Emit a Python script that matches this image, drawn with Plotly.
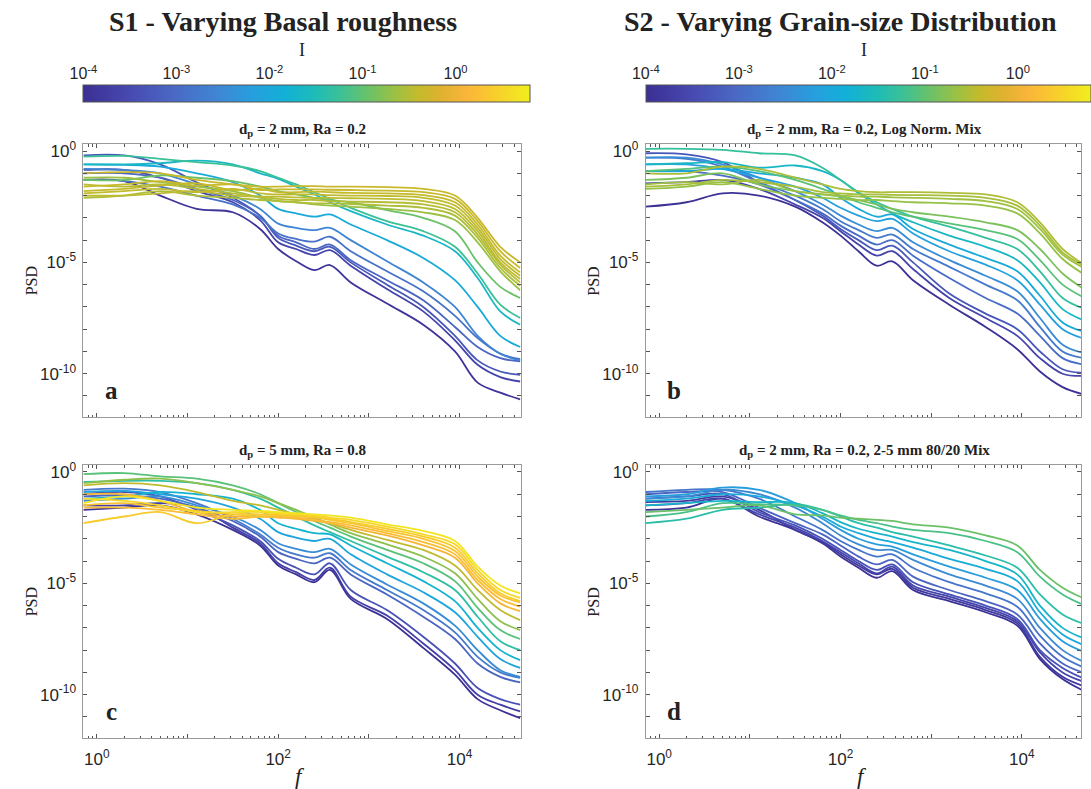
import plotly.graph_objects as go
from plotly.colors import sample_colorscale

# ---------------- data ----------------
# shared frequency grid (Hz)
FREQ = [0.71, 2.0, 5.0, 12.6, 31.6, 63.1, 100, 158, 251, 372, 631, 1585, 3981, 8913, 15850, 28180, 46770]

# log10(I) of every curve, and log10(PSD) of every curve on FREQ
A_LOGI = [-3.9, -3.6, -3.3, -3.1, -2.9, -2.6, -2.0, -1.7, -1.3, -1.0, -0.72, -0.6, -0.56, -0.53, -0.5, -0.48, -0.45, -0.42]
A_PSD = [
    [-1.3, -1.35, -2.0, -2.6, -2.75, -3.5, -4.4, -4.95, -5.35, -5.12, -5.9, -6.85, -7.8, -9.0, -10.4, -10.85, -11.15],
    [-0.85, -0.85, -1.2, -1.8, -2.3, -3.1, -4.1, -4.4, -4.67, -4.45, -5.15, -6.2, -7.2, -8.5, -9.6, -10.15, -10.35],
    [-0.2, -0.2, -0.6, -1.4, -2.1, -2.9, -3.9, -4.25, -4.5, -4.3, -5.0, -6.0, -7.0, -8.3, -9.4, -9.9, -10.05],
    [-1.0, -1.0, -1.2, -1.7, -2.2, -2.9, -3.8, -4.1, -4.4, -4.2, -4.9, -5.8, -6.7, -7.9, -8.8, -9.3, -9.45],
    [-1.3, -1.35, -1.6, -2.0, -2.4, -3.0, -3.7, -3.95, -4.07, -3.85, -4.5, -5.4, -6.3, -7.4, -8.4, -9.1, -9.35],
    [-0.8, -0.85, -1.0, -1.5, -2.0, -2.6, -3.26, -3.45, -3.55, -3.45, -4.0, -4.95, -5.9, -7.0, -8.3, -9.1, -9.4],
    [-0.6, -0.62, -0.7, -1.0, -1.4, -2.0, -2.6, -2.8, -2.95, -2.85, -3.3, -4.0, -4.8, -5.8, -7.0, -8.3, -8.8],
    [-0.6, -0.6, -0.55, -0.43, -0.6, -1.0, -1.25, -1.6, -1.95, -2.3, -2.7, -3.3, -3.8, -4.5, -5.7, -7.2, -7.8],
    [-0.25, -0.22, -0.35, -0.5, -0.65, -0.9, -1.2, -1.5, -1.85, -2.15, -2.55, -3.15, -3.6, -4.3, -5.5, -6.9, -7.5],
    [-1.3, -1.3, -1.1, -1.2, -1.35, -1.6, -1.8, -1.95, -2.1, -2.2, -2.3, -2.65, -3.0, -3.6, -5.0, -6.1, -6.6],
    [-1.2, -1.2, -1.4, -1.6, -1.8, -2.1, -2.25, -2.3, -2.4, -2.45, -2.5, -2.6, -2.75, -3.1, -4.1, -5.4, -6.25],
    [-2.1, -2.0, -1.8, -2.0, -2.1, -2.2, -2.25, -2.3, -2.35, -2.35, -2.38, -2.45, -2.55, -2.9, -3.9, -5.25, -6.05],
    [-1.5, -1.6, -1.5, -1.7, -1.9, -2.05, -2.15, -2.2, -2.2, -2.25, -2.27, -2.3, -2.4, -2.75, -3.75, -5.1, -5.9],
    [-2.0, -2.0, -1.9, -1.8, -2.0, -2.05, -2.05, -2.08, -2.1, -2.1, -2.12, -2.15, -2.25, -2.6, -3.6, -5.0, -5.75],
    [-1.9, -1.8, -1.7, -1.85, -1.7, -1.9, -1.95, -1.95, -1.95, -1.98, -2.0, -2.02, -2.1, -2.45, -3.45, -4.85, -5.6],
    [-1.8, -1.7, -1.55, -1.45, -1.75, -1.7, -1.85, -1.85, -1.82, -1.85, -1.88, -1.9, -1.98, -2.3, -3.3, -4.7, -5.45],
    [-1.6, -1.5, -1.35, -1.55, -1.5, -1.75, -1.72, -1.72, -1.72, -1.74, -1.75, -1.78, -1.85, -2.15, -3.15, -4.5, -5.25],
    [-1.0, -0.95, -1.0, -1.3, -1.5, -1.6, -1.6, -1.58, -1.58, -1.6, -1.6, -1.62, -1.7, -2.0, -3.0, -4.3, -5.0],
]

B_LOGI = [-3.95, -3.6, -3.3, -3.0, -2.8, -2.5, -2.2, -2.0, -1.7, -1.35, -1.1, -0.9, -0.75, -0.7, -0.65, -0.6]
B_PSD = [
    [-2.5, -2.3, -1.9, -2.0, -2.5, -3.2, -3.8, -4.5, -5.15, -4.95, -5.8, -6.9, -7.9, -8.9, -9.9, -10.6, -10.92],
    [-1.45, -1.4, -1.3, -1.7, -2.4, -3.0, -3.6, -4.2, -4.7, -4.5, -5.3, -6.6, -7.5, -8.3, -9.3, -10.0, -10.1],
    [-0.1, -0.15, -0.5, -1.4, -2.2, -2.9, -3.5, -4.0, -4.45, -4.25, -5.0, -6.4, -7.3, -8.0, -9.0, -9.8, -9.96],
    [-0.9, -0.9, -1.1, -1.5, -2.2, -2.8, -3.35, -3.8, -4.2, -4.0, -4.7, -5.7, -6.6, -7.3, -8.3, -9.3, -9.58],
    [-0.3, -0.35, -0.7, -1.4, -2.0, -2.6, -3.15, -3.55, -3.9, -3.75, -4.4, -5.2, -6.0, -6.7, -7.9, -9.0, -9.29],
    [-0.3, -0.3, -0.6, -1.2, -1.8, -2.4, -2.9, -3.3, -3.6, -3.45, -4.1, -4.9, -5.6, -6.3, -7.5, -8.7, -9.06],
    [-0.6, -0.6, -0.8, -1.2, -1.6, -2.1, -2.55, -2.9, -3.15, -3.05, -3.7, -4.5, -5.1, -5.8, -6.9, -8.0, -8.4],
    [-0.9, -0.9, -0.8, -1.0, -1.2, -1.5, -2.1, -2.6, -2.95, -2.85, -3.5, -4.2, -4.8, -5.4, -6.5, -7.7, -8.1],
    [-0.6, -0.55, -0.5, -0.75, -0.65, -0.9, -1.3, -1.9, -2.4, -2.8, -3.2, -3.8, -4.3, -4.9, -5.9, -7.1, -7.58],
    [0.1, 0.1, 0.05, -0.1, -0.2, -0.75, -1.3, -1.85, -2.3, -2.6, -2.95, -3.4, -3.9, -4.4, -5.4, -6.6, -7.06],
    [-0.9, -0.8, -0.7, -0.9, -1.3, -1.7, -2.0, -2.3, -2.55, -2.75, -2.95, -3.25, -3.55, -3.95, -4.9, -6.0, -6.54],
    [-1.3, -1.2, -1.0, -1.5, -1.8, -1.95, -2.05, -2.2, -2.4, -2.6, -2.75, -2.95, -3.2, -3.55, -4.4, -5.5, -6.16],
    [-1.7, -1.6, -1.4, -1.7, -2.0, -2.1, -2.15, -2.2, -2.2, -2.25, -2.3, -2.35, -2.45, -2.8, -3.7, -4.85, -5.49],
    [-1.5, -1.4, -1.5, -1.3, -1.8, -1.95, -2.0, -2.05, -2.05, -2.08, -2.1, -2.15, -2.25, -2.6, -3.5, -4.65, -5.22],
    [-1.6, -1.5, -1.3, -1.4, -1.6, -1.85, -1.9, -1.95, -1.95, -1.97, -1.98, -2.0, -2.1, -2.45, -3.35, -4.55, -5.12],
    [-1.0, -1.0, -0.7, -0.8, -1.2, -1.5, -1.7, -1.8, -1.85, -1.85, -1.85, -1.88, -1.95, -2.3, -3.2, -4.4, -5.05],
]

C_LOGI = [-3.95, -3.7, -3.4, -3.1, -2.8, -2.5, -2.1, -1.8, -1.4, -1.1, -0.8, -0.5, 0.0, 0.15, 0.22, 0.3, 0.45, 0.6]
C_PSD = [
    [-1.7, -1.6, -1.5, -1.9, -2.6, -3.3, -4.2, -4.6, -4.95, -4.4, -5.7, -6.6, -7.9, -9.1, -10.2, -10.7, -11.05],
    [-1.5, -1.5, -1.4, -1.6, -2.5, -3.2, -4.1, -4.5, -4.85, -4.3, -5.6, -6.45, -7.7, -8.9, -10.0, -10.45, -10.75],
    [-1.0, -0.9, -1.1, -1.7, -2.4, -3.1, -3.9, -4.3, -4.6, -4.1, -5.3, -6.2, -7.4, -8.6, -9.7, -10.2, -10.45],
    [-1.1, -1.05, -1.2, -1.6, -2.2, -2.9, -3.6, -3.9, -4.1, -3.85, -4.6, -5.5, -6.5, -7.5, -8.6, -9.2, -9.45],
    [-0.8, -0.75, -0.9, -1.4, -2.1, -2.8, -3.4, -3.7, -3.85, -3.65, -4.4, -5.3, -6.2, -7.2, -8.3, -9.0, -9.25],
    [-1.3, -1.2, -1.1, -1.5, -2.0, -2.6, -3.2, -3.45, -3.6, -3.45, -4.15, -5.05, -5.9, -6.9, -8.0, -8.9, -9.2],
    [-0.9, -0.85, -1.0, -1.2, -1.6, -2.1, -2.7, -2.95, -3.1, -3.0, -3.7, -4.6, -5.4, -6.3, -7.4, -8.4, -8.8],
    [-1.2, -1.1, -0.9, -1.0, -1.2, -1.7, -2.3, -2.55, -2.75, -2.8, -3.3, -4.1, -4.9, -5.8, -7.0, -8.0, -8.45],
    [-0.45, -0.4, -0.4, -0.5, -0.8, -1.2, -1.6, -2.0, -2.4, -2.7, -3.1, -3.8, -4.5, -5.3, -6.5, -7.6, -8.0],
    [-0.1, -0.05, -0.2, -0.3, -0.6, -1.0, -1.4, -1.8, -2.2, -2.5, -2.9, -3.5, -4.1, -4.9, -6.1, -7.1, -7.5],
    [-0.5, -0.35, -0.3, -0.5, -0.8, -1.1, -1.4, -1.7, -2.05, -2.35, -2.75, -3.25, -3.8, -4.55, -5.7, -6.7, -7.1],
    [-0.6, -0.5, -0.6, -0.9, -1.3, -1.5, -1.7, -1.9, -2.1, -2.3, -2.6, -3.05, -3.5, -4.2, -5.3, -6.2, -6.65],
    [-1.0, -1.0, -1.3, -1.8, -2.0, -2.0, -2.05, -2.1, -2.2, -2.3, -2.5, -2.85, -3.3, -3.85, -5.0, -5.9, -6.25],
    [-1.6, -1.6, -1.7, -1.9, -2.1, -2.0, -2.0, -2.05, -2.15, -2.25, -2.4, -2.75, -3.15, -3.7, -4.85, -5.7, -6.05],
    [-1.5, -1.4, -1.6, -1.75, -1.9, -2.0, -1.95, -2.0, -2.05, -2.15, -2.3, -2.65, -3.0, -3.55, -4.7, -5.55, -5.85],
    [-2.3, -2.0, -1.8, -2.3, -1.9, -1.9, -1.9, -1.95, -2.0, -2.1, -2.25, -2.55, -2.9, -3.4, -4.55, -5.45, -5.8],
    [-1.2, -1.3, -1.5, -1.8, -1.8, -1.8, -1.85, -1.9, -1.95, -2.05, -2.15, -2.45, -2.8, -3.25, -4.4, -5.3, -5.65],
    [-1.4, -1.1, -1.3, -1.6, -1.7, -1.75, -1.8, -1.85, -1.9, -1.95, -2.05, -2.35, -2.65, -3.1, -4.25, -5.1, -5.45],
]

D_LOGI = [-3.95, -3.8, -3.6, -3.4, -3.1, -2.85, -2.55, -2.25, -2.0, -1.75, -1.45, -1.2, -1.0]
D_PSD = [
    [-1.7, -1.6, -1.2, -2.0, -2.6, -3.2, -3.8, -4.3, -4.75, -4.45, -5.3, -5.8, -6.3, -6.9, -8.4, -9.3, -9.8],
    [-1.35, -1.3, -1.1, -1.7, -2.6, -3.15, -3.7, -4.2, -4.6, -4.35, -5.2, -5.7, -6.2, -6.8, -8.3, -9.2, -9.6],
    [-1.5, -1.4, -1.2, -1.9, -2.5, -3.1, -3.6, -4.1, -4.55, -4.25, -5.1, -5.6, -6.1, -6.7, -8.1, -9.0, -9.4],
    [-1.2, -1.1, -1.0, -1.8, -2.4, -3.0, -3.5, -4.0, -4.4, -4.15, -4.95, -5.5, -6.0, -6.6, -8.0, -8.8, -9.25],
    [-1.0, -0.9, -0.9, -1.6, -2.3, -2.8, -3.3, -3.8, -4.15, -3.95, -4.7, -5.3, -5.8, -6.4, -7.7, -8.6, -9.0],
    [-0.9, -0.8, -0.8, -1.2, -2.0, -2.6, -3.1, -3.5, -3.8, -3.7, -4.3, -4.95, -5.45, -6.05, -7.35, -8.3, -8.75],
    [-1.2, -1.1, -0.8, -1.0, -1.6, -2.3, -2.85, -3.25, -3.5, -3.5, -3.95, -4.6, -5.1, -5.7, -7.0, -8.0, -8.5],
    [-1.1, -1.0, -0.7, -0.8, -1.4, -2.1, -2.6, -3.0, -3.25, -3.35, -3.7, -4.25, -4.75, -5.3, -6.6, -7.6, -8.05],
    [-1.3, -1.2, -1.0, -1.1, -1.5, -2.0, -2.45, -2.75, -3.0, -3.15, -3.4, -3.9, -4.35, -4.9, -6.3, -7.3, -7.75],
    [-1.5, -1.4, -1.3, -1.35, -1.4, -1.85, -2.25, -2.55, -2.75, -2.9, -3.15, -3.5, -4.0, -4.6, -6.0, -7.0, -7.45],
    [-2.3, -2.1, -1.7, -1.6, -1.45, -1.7, -2.0, -2.3, -2.5, -2.7, -2.9, -3.3, -3.75, -4.3, -5.5, -6.4, -6.8],
    [-2.0, -1.8, -1.4, -1.45, -1.5, -1.7, -1.95, -2.15, -2.3, -2.45, -2.6, -2.75, -3.1, -3.6, -4.7, -5.5, -5.95],
    [-1.8, -1.7, -1.6, -1.5, -1.9, -1.95, -2.05, -2.1, -2.15, -2.2, -2.35, -2.5, -2.85, -3.3, -4.4, -5.2, -5.65],
]

TITLES = ["S1 - Varying Basal roughness", "S2 - Varying Grain-size Distribution"]
SUBTITLES = ["d<sub>p</sub> = 2 mm, Ra = 0.2",
             "d<sub>p</sub> = 2 mm, Ra = 0.2, Log Norm. Mix",
             "d<sub>p</sub> = 5 mm, Ra = 0.8",
             "d<sub>p</sub> = 2 mm, Ra = 0.2, 2-5 mm 80/20 Mix"]
LETTERS = ["a", "b", "c", "d"]

X_TICK_VALS = [1, 10, 100, 1000, 10000]
X_TICK_TEXT = ["10<sup>0</sup>", "", "10<sup>2</sup>", "", "10<sup>4</sup>"]
Y_TICK_VALS = [1, 1e-1, 1e-2, 1e-3, 1e-4, 1e-5, 1e-6, 1e-7, 1e-8, 1e-9, 1e-10, 1e-11]
Y_TICK_TEXT = ["10<sup>0</sup>", "", "", "", "", "10<sup>-5</sup>", "", "", "", "", "10<sup>-10</sup>", ""]
CB_TICK_VALS = [1e-4, 1e-3, 1e-2, 1e-1, 1]
CB_TICK_TEXT = ["10<sup>-4</sup>", "10<sup>-3</sup>", "10<sup>-2</sup>", "10<sup>-1</sup>", "10<sup>0</sup>"]
CB_LOG_MIN, CB_LOG_MAX = -4.0, 0.7

# parula-like colour scale
CS = [[0.00, "rgb(59,47,147)"], [0.10, "rgb(71,72,176)"], [0.20, "rgb(74,104,196)"],
      [0.30, "rgb(63,134,211)"], [0.38, "rgb(38,159,222)"], [0.45, "rgb(18,176,216)"],
      [0.52, "rgb(30,188,182)"], [0.58, "rgb(62,193,148)"], [0.64, "rgb(108,193,103)"],
      [0.70, "rgb(157,193,66)"], [0.75, "rgb(196,186,44)"], [0.80, "rgb(222,178,46)"],
      [0.86, "rgb(250,181,58)"], [0.92, "rgb(248,205,44)"], [1.00, "rgb(241,238,30)"]]

# ---------------- layout geometry ----------------
W, H = 1091, 789
SERIF = "Liberation Serif, Times New Roman, serif"
SANS = "Liberation Sans, Arial, sans-serif"


def fx(p):
    return p / W


def fy(p):
    return 1 - p / H


# left, right, top, bottom (px), x log-range
PANELS = [
    (71, 518, 140, 415, [-0.148, 4.674]),
    (646, 1091, 140, 415, [-0.148, 4.653]),
    (71, 518, 463, 738, [-0.148, 4.674]),
    (646, 1091, 463, 738, [-0.148, 4.653]),
]
Y_RANGE = [-11.96, 0.31]
MINOR_X = [m * 10 ** k for k in range(-1, 5) for m in range(2, 10)]

fig = go.Figure()

DATA = [(A_LOGI, A_PSD), (B_LOGI, B_PSD), (C_LOGI, C_PSD), (D_LOGI, D_PSD)]
for i, (logis, curves) in enumerate(DATA):
    xa = "x" if i == 0 else f"x{i+1}"
    ya = "y" if i == 0 else f"y{i+1}"
    for li, c in zip(logis, curves):
        t = (li - CB_LOG_MIN) / (CB_LOG_MAX - CB_LOG_MIN)
        t = min(max(t, 0), 1)
        col = sample_colorscale(CS, [t])[0]
        fig.add_trace(go.Scatter(
            x=FREQ, y=[10 ** v for v in c], mode="lines",
            line=dict(color=col, width=1.8, shape="spline", smoothing=1.0),
            xaxis=xa, yaxis=ya, showlegend=False, hoverinfo="skip"))

layout = dict(
    width=W, height=H, margin=dict(l=0, r=0, t=0, b=0),
    paper_bgcolor="white", plot_bgcolor="white", showlegend=False,
)

axis_common = dict(showgrid=False, zeroline=False, showline=True, linecolor="#9a9a9a",
                   linewidth=1, mirror="ticks", ticks="inside", tickcolor="#555555",
                   ticklen=4, tickwidth=1, type="log",
                   tickfont=dict(family=SANS, size=17, color="#262626"))

for i, (l, r, t, b, xr) in enumerate(PANELS):
    n = "" if i == 0 else str(i + 1)
    bottom = i >= 2
    layout["xaxis" + n] = dict(
        axis_common, domain=[fx(l), fx(r)], range=xr, anchor="y" + n,
        tickmode="array", tickvals=X_TICK_VALS, ticktext=X_TICK_TEXT,
        showticklabels=bottom, ticklabelstandoff=5,
        minor=dict(tickmode="array", tickvals=MINOR_X, ticks="inside", ticklen=2.5,
                   tickcolor="#555555", showgrid=False))
    layout["yaxis" + n] = dict(
        axis_common, domain=[fy(b), fy(t)], range=Y_RANGE, anchor="x" + n,
        tickmode="array", tickvals=Y_TICK_VALS, ticktext=Y_TICK_TEXT,
        ticklabelstandoff=3)

# colour-bar axes (tick labels on top)
CB = [(71, 518, 81, 98), (646, 1091, 81, 98)]
for j, (l, r, t, b) in enumerate(CB):
    n = str(5 + j)
    span = (r - l) / (518 - 71) * (CB_LOG_MAX - CB_LOG_MIN)
    layout["xaxis" + n] = dict(
        domain=[fx(l), fx(r)], range=[CB_LOG_MIN, CB_LOG_MIN + span], type="log",
        anchor="y" + n, side="top", showgrid=False, zeroline=False, showline=False,
        ticks="inside", ticklen=3, tickcolor="#555555", tickmode="array",
        tickvals=CB_TICK_VALS, ticktext=CB_TICK_TEXT, ticklabelstandoff=2,
        tickfont=dict(family=SANS, size=16, color="#262626"))
    layout["yaxis" + n] = dict(domain=[fy(b), fy(t)], range=[0, 1], visible=False,
                              anchor="x" + n)
    fig.add_trace(go.Scatter(
        x=[None], y=[None], mode="markers", xaxis="x" + n, yaxis="y" + n,
        showlegend=False, hoverinfo="skip",
        marker=dict(color=[CB_LOG_MIN], colorscale=CS, cmin=CB_LOG_MIN,
                    cmax=CB_LOG_MIN + span, showscale=True,
                    colorbar=dict(orientation="h", x=fx(l), xanchor="left",
                                  y=fy(t), yanchor="top", xref="paper", yref="paper",
                                  len=r - l, lenmode="pixels", thickness=b - t,
                                  thicknessmode="pixels", showticklabels=False,
                                  ticks="", outlinewidth=1, outlinecolor="#555555",
                                  xpad=0, ypad=0))))

ann = []
ann.append(dict(text="<b>" + TITLES[0] + "</b>", x=fx(275), y=fy(17)))
ann.append(dict(text="<b>" + TITLES[1] + "</b>", x=fx(845), y=fy(17)))
for a in ann:
    a.update(xref="paper", yref="paper", showarrow=False, xanchor="center", yanchor="middle",
             font=dict(family=SERIF, size=28, color="#222222"))

for i, (l, r, t, b, xr) in enumerate(PANELS):
    cx = (l + (l + 447)) / 2
    ann.append(dict(text="<b>" + SUBTITLES[i] + "</b>", x=fx(cx), y=fy(t - 3),
                    xref="paper", yref="paper", showarrow=False, xanchor="center",
                    yanchor="bottom", font=dict(family=SERIF, size=15, color="#222222")))
    ann.append(dict(text="<b>" + LETTERS[i] + "</b>", x=fx(l + 29), y=fy(b - 27),
                    xref="paper", yref="paper", showarrow=False, xanchor="center",
                    yanchor="middle", font=dict(family=SERIF, size=25, color="#222222")))
    ann.append(dict(text="PSD", x=fx(l - 53), y=fy((t + b) / 2), textangle=-90,
                    xref="paper", yref="paper", showarrow=False, xanchor="center",
                    yanchor="middle", font=dict(family=SERIF, size=16, color="#222222")))
    if i >= 2:
        ann.append(dict(text="<i>f</i>", x=fx(cx - 2), y=fy(776),
                        xref="paper", yref="paper", showarrow=False, xanchor="center",
                        yanchor="middle", font=dict(family=SERIF, size=23, color="#222222")))
    if i < 2:
        ann.append(dict(text="I", x=fx(cx), y=fy(45),
                        xref="paper", yref="paper", showarrow=False, xanchor="center",
                        yanchor="middle", font=dict(family=SERIF, size=18, color="#222222")))

layout["annotations"] = ann
fig.update_layout(**layout)
fig.write_html("out.html")
